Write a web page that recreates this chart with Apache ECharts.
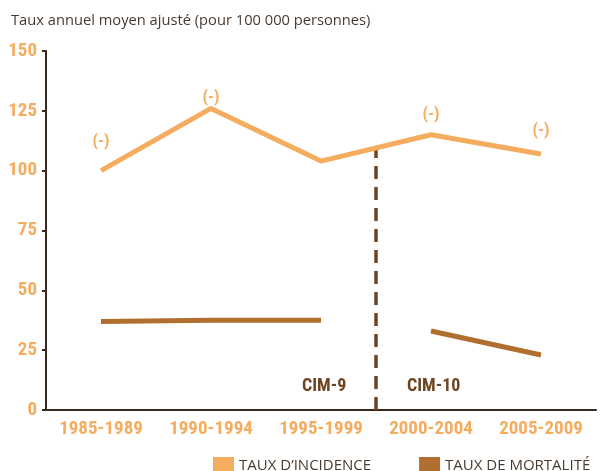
<!DOCTYPE html>
<html>
<head>
<meta charset="utf-8">
<script src="https://cdn.jsdelivr.net/npm/echarts@6/dist/echarts.min.js"></script>
<style>
  html, body { margin: 0; padding: 0; background: #fff; }
  #chart { width: 600px; height: 471px; }
</style>
</head>
<body>
<div id="chart"></div>
<script>
// Données
const periods = ['1985-1989', '1990-1994', '1995-1999', '2000-2004', '2005-2009'];
const incidence = [100, 126, 104, 115, 107];
const mortalityCIM9 = [37, 37.5, 37.5, null, null];
const mortalityCIM10 = [null, null, null, 33, 23];
const incidenceNotes = ['(-)', '(-)', '', '(-)', '(-)'];

// Couleurs
const COLORS = {
  incidence: '#f4ac5f',
  mortality: '#b06e2f',
  axis: '#3a2a1e',
  divider: '#6e4522',
  text: '#4a3b30'
};

const condensed = 'Roboto Condensed';
const labelGap = [20, 2, 0, 12, 15];

// Changement de classification entre 1995-1999 et 2000-2004
const splitIndex = 3;
const splitTop = (incidence[2] + incidence[3]) / 2;
const divider = [[splitIndex, 0], [splitIndex, splitTop]];

const chart = echarts.init(document.getElementById('chart'));

chart.setOption({
  animation: false,
  grid: { left: 46, right: 4, top: 51, bottom: 61 },
  title: {
    text: 'Taux annuel moyen ajusté (pour 100 000 personnes)',
    left: 6,
    top: 8,
    textStyle: {
      color: COLORS.text,
      fontFamily: 'Open Sans',
      fontWeight: 'normal',
      fontSize: 14.7
    }
  },
  legend: {
    top: 452,
    left: 208,
    itemWidth: 21,
    itemHeight: 17,
    itemGap: 48,
    icon: 'rect',
    data: ['TAUX D\u2019INCIDENCE', 'TAUX DE MORTALITÉ'],
    textStyle: {
      color: COLORS.text,
      fontFamily: 'Open Sans',
      fontSize: 15,
      padding: [0, 0, 0, 0]
    }
  },
  xAxis: [
    {
      type: 'category',
      data: periods,
      axisLine: { lineStyle: { color: COLORS.axis, width: 2 } },
      axisTick: { lineStyle: { color: COLORS.axis, width: 2 }, length: 5 },
      axisLabel: {
        interval: 0,
        color: COLORS.incidence,
        fontFamily: condensed,
        fontWeight: 'bold',
        fontSize: 19,
        margin: 10
      }
    },
    {
      type: 'value',
      min: 0,
      max: periods.length,
      show: false
    }
  ],
  yAxis: {
    type: 'value',
    min: 0,
    max: 150,
    interval: 25,
    splitLine: { show: false },
    axisLine: { show: true, lineStyle: { color: COLORS.axis, width: 2 } },
    axisTick: { show: true, length: 4, lineStyle: { color: COLORS.axis, width: 2 } },
    axisLabel: {
      color: COLORS.incidence,
      fontFamily: condensed,
      fontWeight: 'bold',
      fontSize: 19,
      margin: 9
    }
  },
  series: [
    {
      name: 'TAUX D\u2019INCIDENCE',
      type: 'line',
      data: incidence.map((v, i) => ({
        value: v,
        label: { distance: labelGap[i] }
      })),
      symbol: 'circle',
      symbolSize: 0,
      showAllSymbol: true,
      itemStyle: { color: COLORS.incidence },
      lineStyle: { color: COLORS.incidence, width: 5 },
      label: {
        show: true,
        position: 'top',
        color: COLORS.incidence,
        fontFamily: condensed,
        fontWeight: 'bold',
        fontSize: 17,
        formatter: p => incidenceNotes[p.dataIndex]
      },
      z: 3
    },
    {
      name: 'TAUX DE MORTALITÉ',
      type: 'line',
      data: mortalityCIM9,
      symbol: 'none',
      itemStyle: { color: COLORS.mortality },
      lineStyle: { color: COLORS.mortality, width: 5 },
      z: 3
    },
    {
      name: 'TAUX DE MORTALITÉ',
      type: 'line',
      data: mortalityCIM10,
      symbol: 'none',
      itemStyle: { color: COLORS.mortality },
      lineStyle: { color: COLORS.mortality, width: 5 },
      z: 3
    },
    {
      name: 'divider',
      type: 'line',
      xAxisIndex: 1,
      data: divider,
      symbol: 'none',
      silent: true,
      lineStyle: { color: COLORS.divider, width: 3.5, type: [13, 8] },
      z: 2
    }
  ],
  graphic: [
    {
      type: 'text',
      left: 302,
      top: 377,
      style: {
        text: 'CIM-9',
        fill: COLORS.divider,
        font: 'bold 18px "Roboto Condensed"'
      }
    },
    {
      type: 'text',
      left: 407,
      top: 377,
      style: {
        text: 'CIM-10',
        fill: COLORS.divider,
        font: 'bold 18px "Roboto Condensed"'
      }
    }
  ]
});
</script>
</body>
</html>
